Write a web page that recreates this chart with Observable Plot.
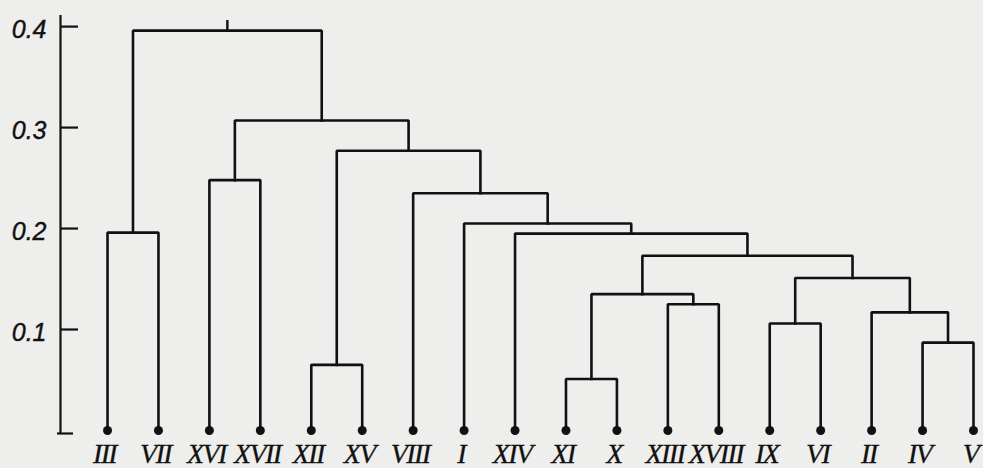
<!DOCTYPE html>
<html><head><meta charset="utf-8">
<script src="https://cdn.jsdelivr.net/npm/d3@7"></script>
<script src="https://cdn.jsdelivr.net/npm/@observablehq/plot@0.6"></script>
<style>
html,body{margin:0;padding:0;background:#eeeeec;overflow:hidden;}
</style></head><body><div id="chart"></div>
<script>
// Leaves in display order
const leaves = ["III","VII","XVI","XVII","XII","XV","VIII","I","XIV","XI","X","XIII","XVIII","IX","VI","II","IV","V"];
// Merges (agglomeration order)
const mergeIds    = ["C1","C2","C3","C4","C5","C6","C7","C8","C9","C10","C11","C12","C13","C14","C15","C16","C17"];
const mergeLeft   = ["III","XVI","XII","XI","XIII","C4","IX","IV","II","C7","C6","XIV","I","VIII","C3","C2","C1"];
const mergeRight  = ["VII","XVII","XV","X","XVIII","C5","VI","V","C8","C9","C10","C11","C12","C13","C14","C15","C16"];
const mergeHeight = [0.196,0.248,0.065,0.051,0.125,0.135,0.106,0.087,0.117,0.151,0.173,0.195,0.205,0.235,0.277,0.307,0.396];
const rootStubTop = 0.406;
const yTicks = [0.1, 0.2, 0.3, 0.4];
const yTickLabels = ["0.1", "0.2", "0.3", "0.4"];

// layout constants
const AXIS_POS = -0.923;   // x-scale position of vertical axis (leaf units)
const Y_MIN = -0.003, Y_MAX = 0.411;
const INK = "#111111";

// Build node positions
const nodes = new Map();
const leafNodes = leaves.map((name, i) => { const n = {name, x: i, h: 0}; nodes.set(name, n); return n; });
const bracketPts = [];
mergeIds.forEach((id, k) => {
  const L = nodes.get(mergeLeft[k]), R = nodes.get(mergeRight[k]);
  const h = mergeHeight[k];
  const n = {name: id, x: (L.x + R.x) / 2, h};
  nodes.set(id, n);
  bracketPts.push({id, x: L.x, y: L.h}, {id, x: L.x, y: h}, {id, x: R.x, y: h}, {id, x: R.x, y: R.h});
});
const root = nodes.get(mergeIds[mergeIds.length - 1]);

const chart = Plot.plot({
  width: 983, height: 468,
  marginLeft: 60, marginRight: 10, marginTop: 15, marginBottom: 35,
  style: {background: "transparent", color: INK, overflow: "visible"},
  x: {type: "linear", domain: [AXIS_POS, leaves.length - 1], axis: null},
  y: {domain: [Y_MIN, Y_MAX], axis: null},
  marks: [
    Plot.ruleX([AXIS_POS], {stroke: INK, strokeWidth: 2.2}),
    Plot.ruleY(yTicks, {stroke: INK, strokeWidth: 2.2, insetLeft: 1, insetRight: 895}),
    Plot.ruleY([Y_MIN], {stroke: INK, strokeWidth: 2.2, insetLeft: -3, insetRight: 900}),
    Plot.text(yTicks, {x: AXIS_POS, y: d => d, text: (d, i) => yTickLabels[i], textAnchor: "end", dx: -14, dy: 3,
      fontSize: 25, fontStyle: "italic", fontFamily: "Liberation Sans", fill: INK, stroke: INK, strokeWidth: 0.4}),
    Plot.line(bracketPts, {x: "x", y: "y", z: "id", stroke: INK, strokeWidth: 2.6, strokeLinejoin: "miter", strokeLinecap: "square"}),
    Plot.ruleX([root], {x: "x", y1: "h", y2: () => rootStubTop, stroke: INK, strokeWidth: 2.4}),
    Plot.dot(leafNodes, {x: "x", y: "h", r: 4.5, fill: INK, stroke: "none"}),
    Plot.text(leafNodes, {x: "x", y: "h", text: "name", lineAnchor: "top", dy: 13, dx: -3,
      fontSize: 28, fontFamily: "Liberation Serif", fontStyle: "italic", fill: INK, stroke: INK, strokeWidth: 0.3})
  ]
});
const leafSet = new Set(leaves);
d3.select(chart).selectAll("text")
  .filter(function() { return leafSet.has(this.textContent); })
  .style("letter-spacing", "-1.6px");
document.getElementById("chart").appendChild(chart);
</script>
</body></html>
